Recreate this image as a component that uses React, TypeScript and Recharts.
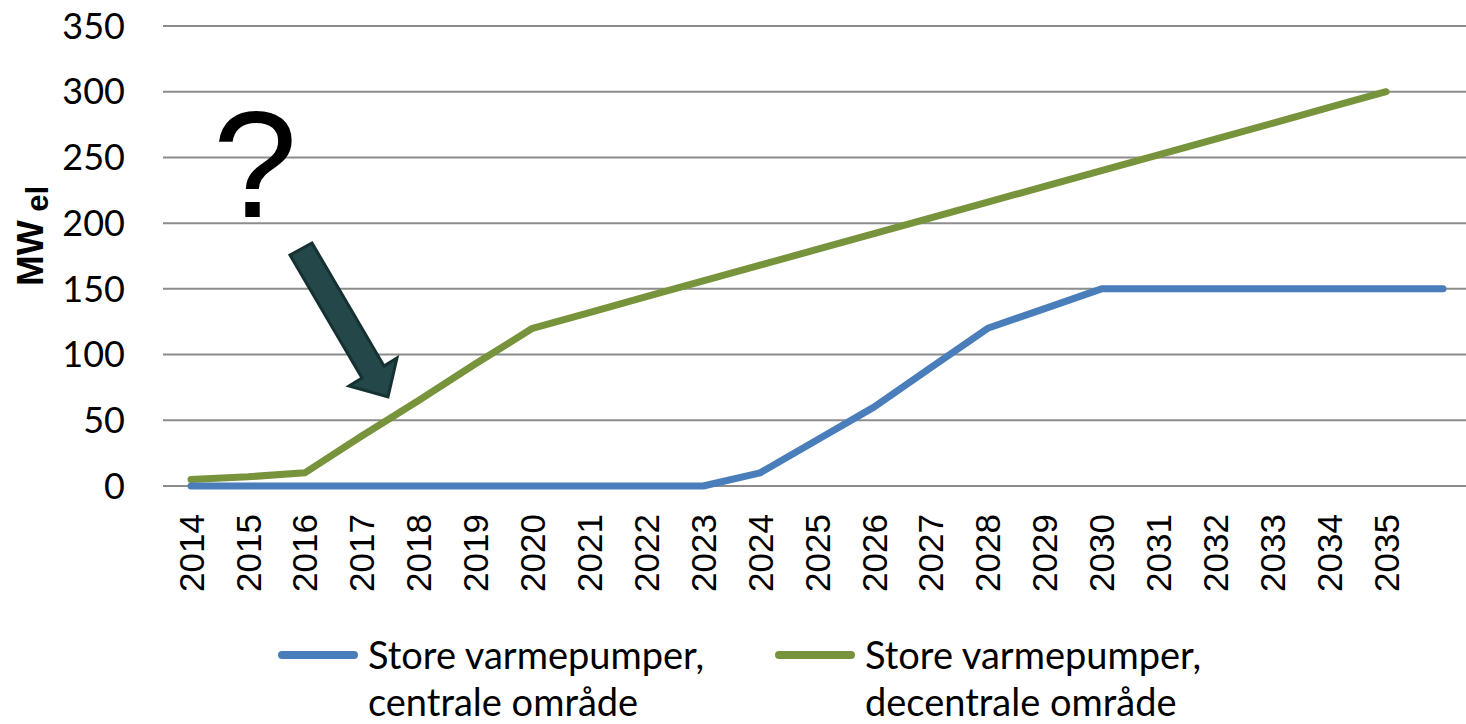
import React from 'react';
import { LineChart, Line, XAxis, YAxis, CartesianGrid, Legend } from 'recharts';

const years = [
  '2014', '2015', '2016', '2017', '2018', '2019', '2020', '2021', '2022', '2023', '2024',
  '2025', '2026', '2027', '2028', '2029', '2030', '2031', '2032', '2033', '2034', '2035', '',
];
const centrale = [0, 0, 0, 0, 0, 0, 0, 0, 0, 0, 10, 35, 60, 90, 120, 135, 150, 150, 150, 150, 150, 150, 150];
const decentrale = [
  5, 7, 10, 38, 65, 93, 120, 132, 144, 156, 168, 180, 192, 204, 216, 228, 240, 252, 264, 276, 288, 300, null,
];
const yTicks = [0, 50, 100, 150, 200, 250, 300, 350];
const centraleName = ['Store varmepumper,', 'centrale område'];
const decentraleName = ['Store varmepumper,', 'decentrale område'];

const BLUE = '#4a7ebb';
const GREEN = '#77933c';

const rows = years.map((year, i) => ({ year, centrale: centrale[i], decentrale: decentrale[i] }));

function YearTick(props: any) {
  const { x, y, payload } = props;
  return (
    <text
      transform={`translate(${x},${y + 28}) rotate(-90)`}
      textAnchor="end"
      dy="0.36em"
      fontFamily="'Liberation Sans', Arial, sans-serif"
      fontSize={35}
      fill="#000"
    >
      {payload.value}
    </text>
  );
}

function renderMwLabel() {
  return (
    <text
      transform="translate(43,236) rotate(-90)"
      textAnchor="middle"
      fontFamily="'Liberation Sans', Arial, sans-serif"
      fontWeight="bold"
      fill="#000"
    >
      <tspan fontSize={37}>MW</tspan>
      <tspan fontSize={31} dy={5}> el</tspan>
    </text>
  );
}

const legendItems = [
  { lines: centraleName, color: BLUE },
  { lines: decentraleName, color: GREEN },
];

function renderLegend() {
  return (
    <div
      style={{
        display: 'flex',
        paddingLeft: 278,
        fontFamily: 'Lato, sans-serif',
        fontSize: 38,
        lineHeight: '47px',
        color: '#000',
      }}
    >
      {legendItems.map((item, i) => (
        <div key={i} style={{ display: 'flex', width: 497 }}>
          <div
            style={{
              width: 80,
              height: 8,
              marginTop: 20,
              borderRadius: 4,
              background: item.color,
            }}
          />
          <div style={{ marginLeft: 10, whiteSpace: 'nowrap' }}>
            {item.lines.map((l) => (
              <div key={l}>{l}</div>
            ))}
          </div>
        </div>
      ))}
    </div>
  );
}

export default function App() {
  return (
    <div
      style={{
        position: 'absolute',
        left: 0,
        top: 0,
        width: 1466,
        height: 724,
        overflow: 'hidden',
        background: '#fff',
      }}
    >
      <LineChart width={1471} height={724} data={rows} margin={{ top: 26, right: 0, bottom: 0, left: 0 }}>
        <CartesianGrid vertical={false} stroke="#8c8c8c" strokeWidth={2} />
        <XAxis
          dataKey="year"
          interval={0}
          tickLine={false}
          axisLine={false}
          tickSize={0}
          tickMargin={0}
          height={238}
          padding={{ left: 28, right: 28 }}
          tick={<YearTick />}
        />
        <YAxis
          domain={[0, 350]}
          ticks={yTicks}
          width={163}
          tickLine={false}
          axisLine={false}
          tickSize={0}
          tickMargin={38}
          tick={{ fill: '#000', fontSize: 36, fontFamily: 'Lato, sans-serif' }}
          label={renderMwLabel}
        />
        <Legend
          layout="horizontal"
          verticalAlign="middle"
          align="center"
          wrapperStyle={{ top: 631, left: 0, width: 1466, height: 93 }}
          content={renderLegend}
        />
        <Line
          dataKey="decentrale"
          stroke={GREEN}
          strokeWidth={7}
          strokeLinecap="round"
          strokeLinejoin="round"
          dot={false}
          activeDot={false}
          isAnimationActive={false}
        />
        <Line
          dataKey="centrale"
          stroke={BLUE}
          strokeWidth={7}
          strokeLinecap="round"
          strokeLinejoin="round"
          dot={false}
          activeDot={false}
          isAnimationActive={false}
        />
      </LineChart>
      <svg
        width={1466}
        height={724}
        style={{ position: 'absolute', left: 0, top: 0, pointerEvents: 'none' }}
      >
        <text
          x={255}
          y={217}
          textAnchor="middle"
          fontFamily="'Liberation Sans', Arial, sans-serif"
          fontSize={152}
          fill="#000"
        >
          ?
        </text>
        <polygon
          points="290,255 312,243 384,366 397,358 388,397 349,386 362,378"
          fill="#244749"
          stroke="#163131"
          strokeWidth={3}
          strokeLinejoin="miter"
        />
      </svg>
    </div>
  );
}
